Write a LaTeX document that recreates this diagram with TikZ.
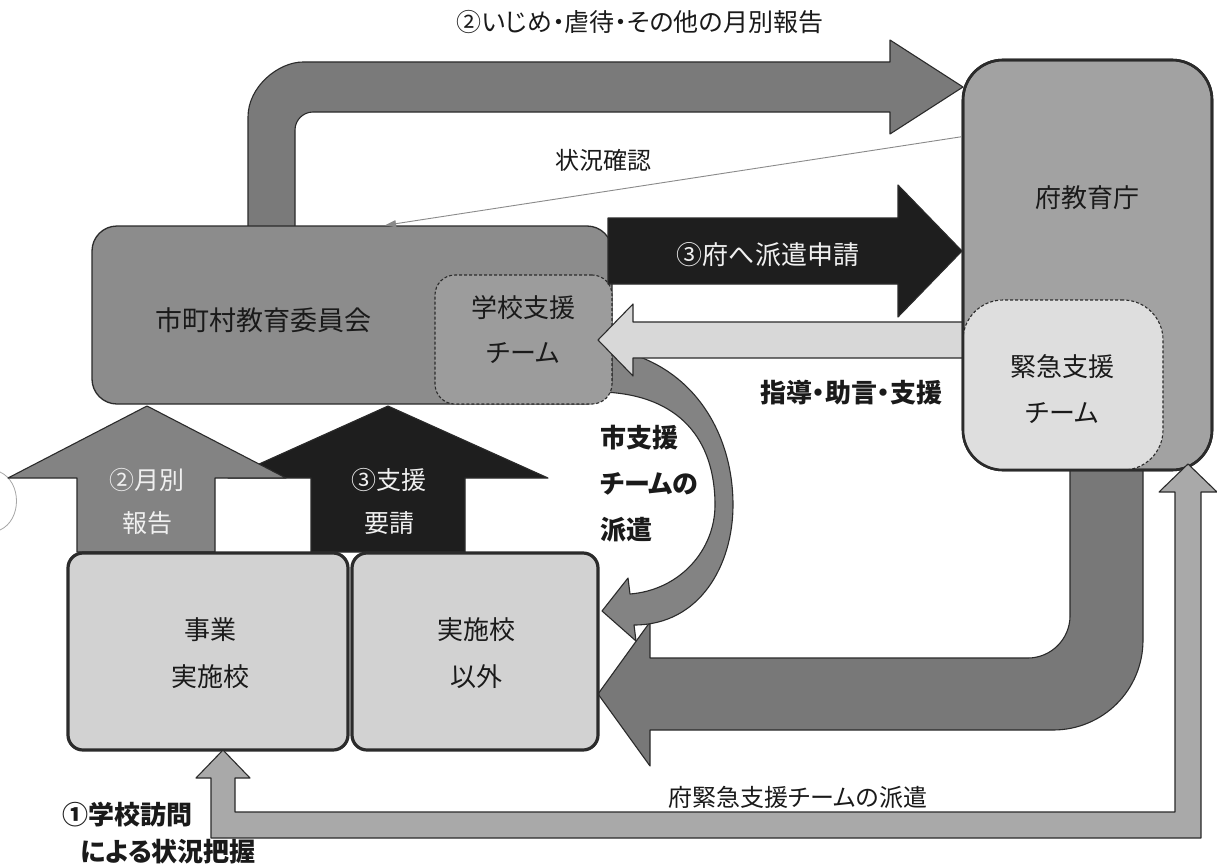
\documentclass[tikz,border=0pt]{standalone}
\usepackage{fontspec}
\setmainfont{Noto Sans CJK JP}[RawFeature={+palt}]
\usetikzlibrary{arrows.meta}
\definecolor{edge}{HTML}{2B2B2B}
\definecolor{ctop}{HTML}{7A7A7A}
\definecolor{cshi}{HTML}{8C8C8C}
\definecolor{cgak}{HTML}{9C9C9C}
\definecolor{cfu}{HTML}{A2A2A2}
\definecolor{ckin}{HTML}{DEDEDE}
\definecolor{cblk}{HTML}{1E1E1E}
\definecolor{clight}{HTML}{D8D8D8}
\definecolor{cgray}{HTML}{838383}
\definecolor{cbig}{HTML}{787878}
\definecolor{cthin}{HTML}{A9A9A9}
\definecolor{cschool}{HTML}{D2D2D2}
\definecolor{txt}{HTML}{1A1A1A}
\definecolor{wtxt}{HTML}{F0F0F0}
\definecolor{cline}{HTML}{8A8A8A}
\begin{document}
\begin{tikzpicture}[x=1pt,y=-1pt,
  lbl/.style={inner sep=0pt, text=txt, font=\fontsize{26}{30}\selectfont},
  blbl/.style={inner sep=0pt, text=txt, font=\fontsize{26}{30}\selectfont\bfseries},
  wlbl/.style={inner sep=0pt, text=wtxt, font=\fontsize{25}{29}\selectfont},
  blockarrow/.style={draw=edge, line width=1.1pt, line join=round},
  boxstyle/.style={draw=edge, line width=1.3pt, inner sep=0pt},
  dashbox/.style={draw=edge, line width=1.1pt, dash pattern=on 3pt off 2pt, inner sep=0pt},
  schoolbox/.style={draw=edge, line width=3.2pt, fill=cschool, rounded corners=15pt, inner sep=0pt},
]
\useasboundingbox (0,0) rectangle (1217,867);
\fill[white] (0,0) rectangle (1217,867);
% scan artifact arc
\draw[black!35, line width=0.8pt] (0,472) .. controls (22,482) and (22,520) .. (0,530);

% title
\node[lbl, font=\fontsize{25}{29}\selectfont] (title) at (640,22) {②いじめ・虐待・その他の月別報告};

% top bent arrow (monthly report)
\path[blockarrow, fill=ctop] (248,228) -- (248,117) .. controls (248,86.6) and (278.4,62) .. (303,62)
  -- (890,62) -- (890,40) -- (963,87) -- (890,134) -- (890,112) -- (313,112)
  .. controls (303.1,112) and (295,120.1) .. (295,130) -- (295,228) -- cycle;

% big bent arrow from prefecture (emergency team dispatch)
\path[blockarrow, fill=cbig] (1070,470) -- (1143,470) -- (1143,640)
  .. controls (1143,690) and (1103,730) .. (1053,730) -- (650,730) -- (650,766) -- (598,694)
  -- (650,622) -- (650,658) -- (1028,658) .. controls (1051,658) and (1070,639) .. (1070,616) -- cycle;

% curved arrow (city support team dispatch)
\path[blockarrow, fill=cgray] (605,348) .. controls (690,360) and (733,430) .. (733,505)
  .. controls (733,565) and (700,625) .. (634,625) -- (636,641) -- (602,611) -- (628,578) -- (630,594)
  .. controls (680,590) and (715,550) .. (715,505) .. controls (715,440) and (680,395) .. (603,392) -- cycle;

% municipal board box
\node[boxstyle, fill=cshi, rounded corners=25pt, minimum width=520pt, minimum height=178pt] (shi) at (352,315) {};
\node[dashbox, fill=cgak, rounded corners=20pt, minimum width=177pt, minimum height=129pt] (gak) at (523.5,339.5) {};
\node[lbl, font=\fontsize{27}{31}\selectfont] (shi-t) at (263,320) {市町村教育委員会};
\node[lbl] (gak-t1) at (523,308) {学校支援};
\node[lbl] (gak-t2) at (523,353) {チーム};

% light arrow (guidance)
\path[blockarrow, fill=clight] (963,322) -- (633,322) -- (633,304) -- (598,340) -- (633,376) -- (633,358) -- (963,358) -- cycle;

% black arrow (request to prefecture)
\path[blockarrow, fill=cblk] (608,218) -- (898,218) -- (898,185) -- (962,251) -- (898,317) -- (898,284) -- (608,284) -- cycle;
\node[wlbl, font=\fontsize{26}{30}\selectfont] (req-t) at (768,255) {③府へ派遣申請};

% prefecture box
\node[boxstyle, line width=2.6pt, fill=cfu, rounded corners=40pt, minimum width=249pt, minimum height=410pt] (fu) at (1087.5,265) {};
\node[dashbox, fill=ckin, rounded corners=40pt, minimum width=200pt, minimum height=170pt] (kin) at (1063,385) {};
\node[draw=edge, line width=2.6pt, rounded corners=40pt, minimum width=249pt, minimum height=410pt, inner sep=0pt] (fu-b) at (1087.5,265) {};
\node[lbl] (fu-t) at (1087,198) {府教育庁};
\node[lbl] (kin-t1) at (1062,367) {緊急支援};
\node[lbl] (kin-t2) at (1062,413) {チーム};

% up arrows
\path[blockarrow, fill=cblk] (311,552) -- (311,478) -- (228,478) -- (388,406) -- (548,478) -- (465,478) -- (465,552) -- cycle;
\path[blockarrow, fill=cgray] (77,552) -- (77,478) -- (8,478) -- (147,406) -- (286,478) -- (215,478) -- (215,552) -- cycle;
\node[wlbl] (up1-t1) at (147,480) {②月別};
\node[wlbl] (up1-t2) at (147,523) {報告};
\node[wlbl] (up2-t1) at (389,480) {③支援};
\node[wlbl] (up2-t2) at (389,523) {要請};

% school boxes
\node[schoolbox, minimum width=280pt, minimum height=197pt] (sch1) at (208,651.5) {};
\node[schoolbox, minimum width=246pt, minimum height=197pt] (sch2) at (475,651.5) {};
\node[lbl] (sch1-t1) at (210,630) {事業};
\node[lbl] (sch1-t2) at (210,677) {実施校};
\node[lbl] (sch2-t1) at (476,630) {実施校};
\node[lbl] (sch2-t2) at (476,677) {以外};

% thin U arrow (school visits)
\path[blockarrow, fill=cthin] (211,838) -- (211,778) -- (196,778) -- (223,750) -- (250,778) -- (235,778)
  -- (235,812) -- (1175,812) -- (1175,492) -- (1159,492) -- (1188,464) -- (1217,492) -- (1201,492)
  -- (1201,838) -- cycle;

% labels
\node[lbl, font=\fontsize{24}{28}\selectfont] (kak-t) at (603,160) {状況確認};
\node[blbl] (shido-t) at (851,393) {指導・助言・支援};
\node[blbl, anchor=west] (ks1) at (600,438) {市支援};
\node[blbl, anchor=west] (ks2) at (600,484) {チームの};
\node[blbl, anchor=west] (ks3) at (600,530) {派遣};
\node[lbl, font=\fontsize{24}{28}\selectfont] (kinh-t) at (798,797) {府緊急支援チームの派遣};
\node[blbl, anchor=west] (v1) at (62,815) {①学校訪問};
\node[blbl, anchor=west] (v2) at (80,852) {による状況把握};

% status check connector
\draw[cline, line width=0.9pt, -{Triangle[length=11pt,width=7pt]}] ([yshift=-78pt]fu.north west) -- ([xshift=33pt]shi.north);
\end{tikzpicture}
\end{document}
